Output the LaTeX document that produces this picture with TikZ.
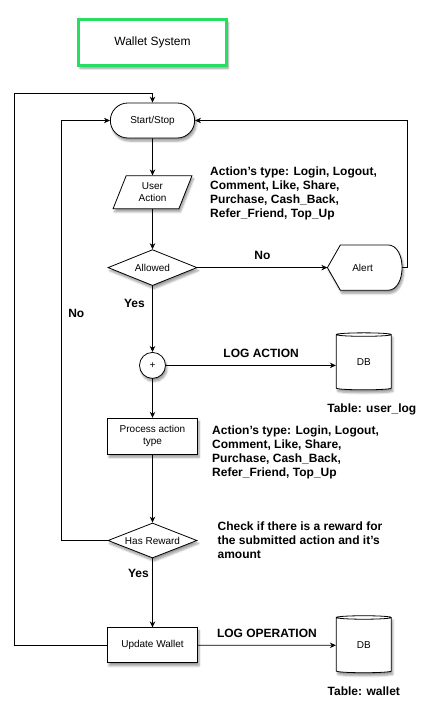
\documentclass[tikz,border=0pt]{standalone}
\usepackage{fontspec}
\setmainfont{Liberation Sans}
\usepackage{xcolor}
\usepackage{tikz}
\usetikzlibrary{
arrows.meta,
positioning,
shapes.geometric,
shapes.misc,
shadows.blur,
calc
}

\definecolor{titlegreen}{RGB}{38,222,98}

\begin{document}
\begin{tikzpicture}[
x=1pt,y=-1pt,
every node/.style={font=\fontsize{10}{12}\selectfont},
shade/.style={
blur shadow={shadow blur steps=6,shadow xshift=1.5pt,shadow yshift=-3pt,shadow opacity=40}
},
box/.style={
draw,
fill=white,
line width=0.8pt,
shade,
minimum width=90pt,
minimum height=35pt,
align=center
},
terminal/.style={box,rounded rectangle},
iobox/.style={box,trapezium,trapezium left angle=70,trapezium right angle=110,
trapezium stretches=true,minimum width=79pt,minimum height=33pt,inner sep=0pt},
decision/.style={box,diamond,aspect=2.5,minimum width=89pt,minimum height=36pt,inner sep=0pt},
junction/.style={box,circle,minimum width=26pt,minimum height=26pt,inner sep=0pt},
store/.style={box,cylinder,shape border rotate=90,aspect=0.25,
minimum width=55pt,minimum height=57pt,inner sep=0pt},
note/.style={font=\fontsize{12}{14}\selectfont\bfseries,align=left,inner sep=0pt},
tag/.style={font=\fontsize{12}{14}\selectfont\bfseries},
arrow/.style={-{Stealth[length=6pt,width=5.5pt]},line width=0.8pt}
]

\useasboundingbox (0,0) rectangle (429,703);

\node[box,draw=titlegreen,line width=3.2pt,minimum width=148pt,minimum height=46pt,
font=\fontsize{12}{14}\selectfont] (title) at (152.5,42.5) {Wallet System};

\node[terminal,minimum width=91pt] (startstop) at (152.5,120.5) {Start/Stop};

\node[iobox,below=37pt of startstop] (useraction) {User\\Action};

\node[decision,below=40pt of useraction] (allowed) {Allowed};

\node[inner sep=0pt,minimum width=74pt,minimum height=45pt,
right=130pt of allowed] (alert) {};

\node[junction,below=66pt of allowed] (plus) {+};

\node[store,right=170pt of plus,yshift=3pt] (dbaction) {DB};

\node[box,below=39pt of plus,minimum height=36pt] (process) {Process action\\type};

\node[decision,minimum height=35pt,below=68pt of process] (hasreward) {Has Reward};

\node[box,below=69pt of hasreward] (update) {Update Wallet};

\node[store,right=138pt of update] (dbwallet) {DB};

% side notes
\node[note,anchor=west] (typesA) at (210,193) {Action's type: Login, Logout,\\
Comment, Like, Share,\\
Purchase, Cash\_Back,\\
Refer\_Friend, Top\_Up};

\node[note,anchor=north west] (typesB) at (212,425.5) {Action's type: Login, Logout,\\
Comment, Like, Share,\\
Purchase, Cash\_Back,\\
Refer\_Friend, Top\_Up};

\node[note,right=20pt of hasreward] (rewardnote) {Check if there is a reward for\\
the submitted action and it's\\
amount};

\node[tag,below=10pt of dbaction,xshift=8pt] (tableA) {Table: user\_log};
\node[tag,below=10pt of dbwallet] (tableB) {Table: wallet};

% alert outline
\draw[fill=white,line width=0.8pt,shade] (alert.west) -- ($(alert.north west)+(13pt,0pt)$)
-- ($(alert.north east)+(-14pt,0pt)$)
.. controls ($(alert.north east)+(5pt,0pt)$) and ($(alert.south east)+(5pt,0pt)$) ..
($(alert.south east)+(-14pt,0pt)$)
-- ($(alert.south west)+(13pt,0pt)$) -- cycle;
\node at ([xshift=-2pt]alert.center) {Alert};

\draw[arrow] (startstop) -- (useraction);
\draw[arrow] (useraction) -- (allowed);
\draw[arrow] (allowed) -- node[tag,midway,above=4pt] {No} (alert);
\draw[arrow] (allowed) -- node[tag,pos=0.27,left=4pt] {Yes} (plus);
\draw[arrow] (plus) -- node[tag,pos=0.56,above=4pt] {LOG ACTION} (plus -| dbaction.west);
\draw[arrow] (plus) -- (process);
\draw[arrow] (process) -- (hasreward);
\draw[arrow] (hasreward) -- node[tag,pos=0.22,left] {Yes} (update);
\draw[arrow] (update) -- node[tag,midway,above=4pt] {LOG OPERATION} (dbwallet);

\draw[arrow] (alert.east) -- ++(6pt,0pt) |- (startstop.east);
\draw[arrow] (hasreward.west) -- ++(-46pt,0pt) |- (startstop.west)
node[tag,pos=0.27,right=3pt] {No};
\draw[arrow] (update.west) -- ++(-93pt,0pt) |- ([yshift=9pt]startstop.north)
-- (startstop.north);

\end{tikzpicture}
\end{document}
